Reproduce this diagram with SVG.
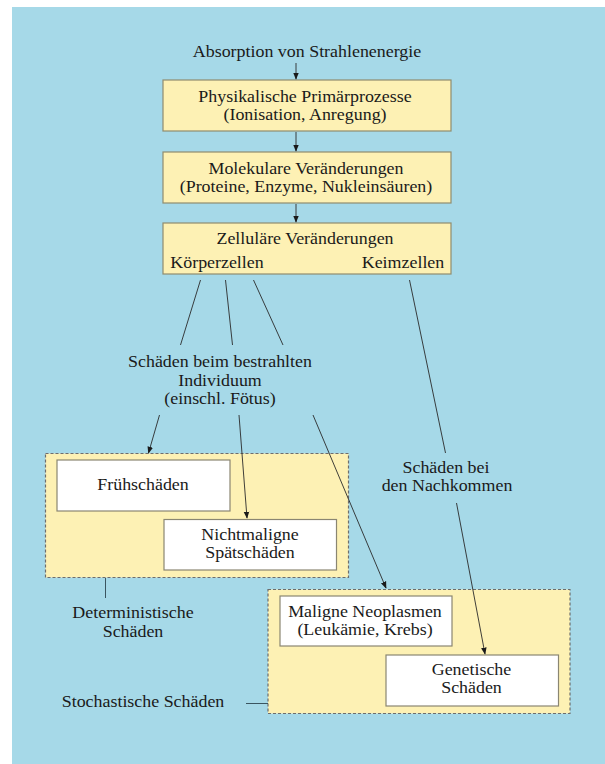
<svg xmlns="http://www.w3.org/2000/svg" width="605" height="764" viewBox="0 0 605 764">
<style>
.t{font-family:'Liberation Serif','DejaVu Serif','Times New Roman',serif;font-size:16px;fill:#1a1a1a;text-anchor:middle}
.box{fill:#fdf1b4;stroke:#8f8c6e;stroke-width:1.2}
.wbox{fill:#ffffff;stroke:#8a8672;stroke-width:1.2}
.group{fill:#fdf1b4;stroke:#6d6d6d;stroke-width:1.2;stroke-dasharray:3 2}
.conn{fill:none;stroke:#2a2a2a;stroke-width:0.9}
.plain{fill:none;stroke:#3a5560;stroke-width:1}
</style>
<defs>
<marker id="ah" viewBox="0 0 10 10" refX="9" refY="5" markerWidth="7" markerHeight="7" orient="auto" markerUnits="userSpaceOnUse">
<path d="M0,1 L10,5 L0,9 Z" fill="#1a1a1a"/>
</marker>
</defs>
<rect x="0" y="0" width="605" height="764" fill="#ffffff"/>
<rect x="12" y="7" width="593" height="757" fill="#a6d9e8"/>

<g id="groups">
<rect class="group" x="45.5" y="453.5" width="303" height="124"/>
<rect class="group" x="268" y="589.5" width="302" height="124"/>
</g>

<g id="start"><text class="t" font-family="Liberation Serif, serif" transform="translate(307 57) scale(1.12 1)">Absorption von Strahlenenergie</text></g>

<g id="n1">
<rect class="box" x="163" y="80" width="288" height="51"/>
<text class="t" font-family="Liberation Serif, serif" transform="translate(305 102) scale(1.12 1)">Physikalische Primärprozesse</text>
<text class="t" font-family="Liberation Serif, serif" transform="translate(305 120) scale(1.12 1)">(Ionisation, Anregung)</text>
</g>
<g id="n2">
<rect class="box" x="163" y="152" width="288" height="51"/>
<text class="t" font-family="Liberation Serif, serif" transform="translate(306 174) scale(1.12 1)">Molekulare Veränderungen</text>
<text class="t" font-family="Liberation Serif, serif" transform="translate(306 192) scale(1.12 1)">(Proteine, Enzyme, Nukleinsäuren)</text>
</g>
<g id="n3">
<rect class="box" x="163" y="223" width="288" height="51"/>
<text class="t" font-family="Liberation Serif, serif" transform="translate(305 244) scale(1.12 1)">Zelluläre Veränderungen</text>
<text class="t" font-family="Liberation Serif, serif" transform="translate(217 268) scale(1.12 1)">Körperzellen</text>
<text class="t" font-family="Liberation Serif, serif" transform="translate(403 268) scale(1.12 1)">Keimzellen</text>
</g>

<g id="lbl_individuum">
<text class="t" font-family="Liberation Serif, serif" transform="translate(220 367) scale(1.12 1)">Schäden beim bestrahlten</text>
<text class="t" font-family="Liberation Serif, serif" transform="translate(220 386) scale(1.12 1)">Individuum</text>
<text class="t" font-family="Liberation Serif, serif" transform="translate(220 404) scale(1.12 1)">(einschl. Fötus)</text>
</g>
<g id="lbl_nachkommen">
<text class="t" font-family="Liberation Serif, serif" transform="translate(446 473) scale(1.12 1)">Schäden bei</text>
<text class="t" font-family="Liberation Serif, serif" transform="translate(447 491) scale(1.12 1)">den Nachkommen</text>
</g>

<g id="n_frueh">
<rect class="wbox" x="57" y="460" width="173" height="51"/>
<text class="t" font-family="Liberation Serif, serif" transform="translate(143 490) scale(1.12 1)">Frühschäden</text>
</g>
<g id="n_spaet">
<rect class="wbox" x="164" y="519.5" width="172.5" height="50.5"/>
<text class="t" font-family="Liberation Serif, serif" transform="translate(250 540) scale(1.12 1)">Nichtmaligne</text>
<text class="t" font-family="Liberation Serif, serif" transform="translate(250 558) scale(1.12 1)">Spätschäden</text>
</g>
<g id="n_maligne">
<rect class="wbox" x="280" y="596" width="172" height="50"/>
<text class="t" font-family="Liberation Serif, serif" transform="translate(365 617) scale(1.12 1)">Maligne Neoplasmen</text>
<text class="t" font-family="Liberation Serif, serif" transform="translate(365 635) scale(1.12 1)">(Leukämie, Krebs)</text>
</g>
<g id="n_genetisch">
<rect class="wbox" x="386" y="655" width="172.5" height="51"/>
<text class="t" font-family="Liberation Serif, serif" transform="translate(471.5 675) scale(1.12 1)">Genetische</text>
<text class="t" font-family="Liberation Serif, serif" transform="translate(471.5 693) scale(1.12 1)">Schäden</text>
</g>

<g id="lbl_det">
<text class="t" font-family="Liberation Serif, serif" transform="translate(133 618) scale(1.12 1)">Deterministische</text>
<text class="t" font-family="Liberation Serif, serif" transform="translate(133 637) scale(1.12 1)">Schäden</text>
</g>
<g id="lbl_sto">
<text class="t" font-family="Liberation Serif, serif" transform="translate(143 707) scale(1.12 1)">Stochastische Schäden</text>
</g>

<g id="connectors">
<line class="conn" x1="296" y1="63" x2="296" y2="79" marker-end="url(#ah)"/>
<line class="conn" x1="296" y1="132" x2="296" y2="151" marker-end="url(#ah)"/>
<line class="conn" x1="296" y1="204" x2="296" y2="222" marker-end="url(#ah)"/>
<line class="conn" x1="200.5" y1="280" x2="180.5" y2="345"/>
<line class="conn" x1="225.5" y1="280" x2="232.5" y2="345"/>
<line class="conn" x1="253.5" y1="280" x2="283" y2="345"/>
<line class="conn" x1="409.5" y1="280" x2="445.5" y2="453"/>
<line class="conn" x1="159.5" y1="415" x2="148.5" y2="453" marker-end="url(#ah)"/>
<line class="conn" x1="239" y1="415" x2="247" y2="518" marker-end="url(#ah)"/>
<line class="conn" x1="313" y1="415" x2="386" y2="588" marker-end="url(#ah)"/>
<line class="conn" x1="456.5" y1="503" x2="485" y2="654" marker-end="url(#ah)"/>
<line class="plain" x1="105.5" y1="578" x2="105.5" y2="598"/>
<line class="plain" x1="246" y1="703.5" x2="268" y2="703.5"/>
</g>
</svg>
